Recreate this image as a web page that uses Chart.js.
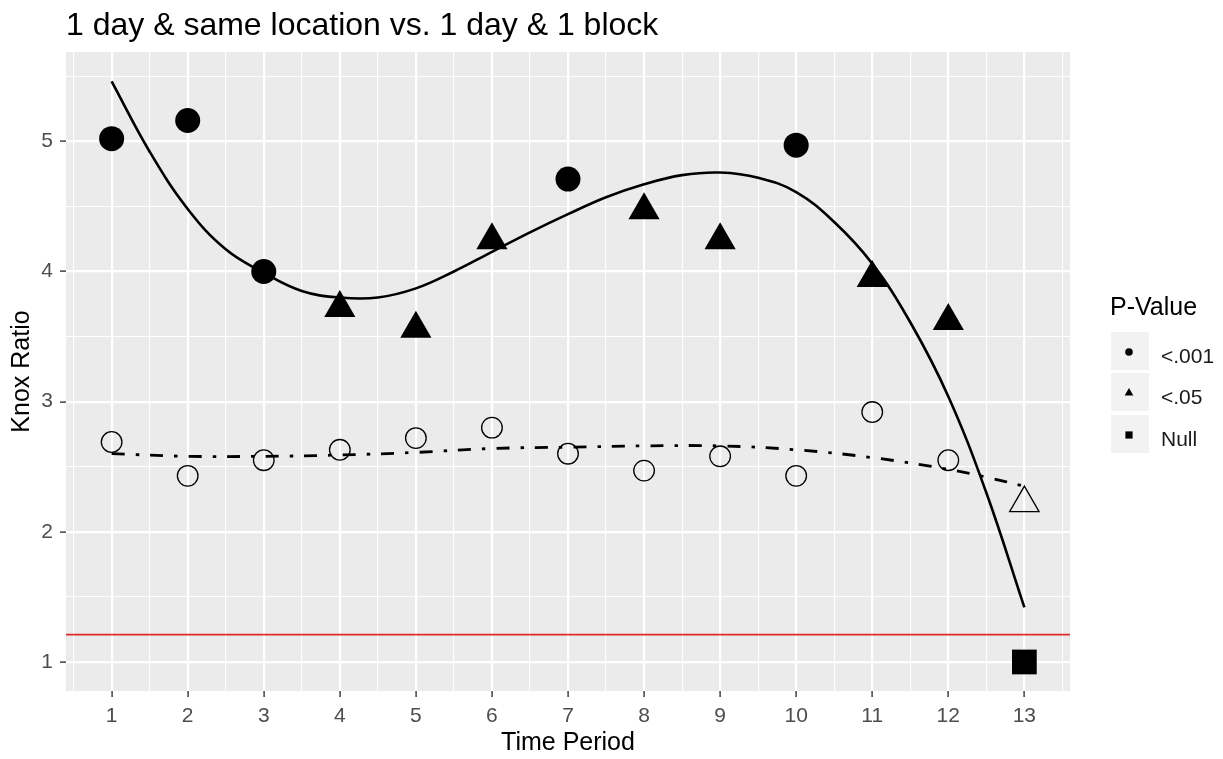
<!DOCTYPE html>
<html>
<head>
<meta charset="utf-8">
<script src="https://cdn.jsdelivr.net/npm/chart.js@4.4.0/dist/chart.umd.min.js"></script>
<style>
  html, body { margin: 0; padding: 0; background: #fff; }
  #wrap { width: 1223px; height: 759px; position: relative; }
</style>
</head>
<body>
<div id="wrap"><canvas id="knox" width="1223" height="759"></canvas></div>
<script>
// observed points
const periods      = [1, 2, 3, 4, 5, 6, 7, 8, 9, 10, 11, 12, 13];
const sameLocRatio = [5.02, 5.16, 4.00, 3.72, 3.56, 4.24, 4.71, 4.47, 4.24, 4.97, 3.95, 3.62, 1.00];
const sameLocP     = ['<.001', '<.001', '<.001', '<.05', '<.05', '<.05', '<.001', '<.05', '<.05', '<.001', '<.05', '<.05', 'Null'];
const blockRatio   = [2.69, 2.43, 2.55, 2.63, 2.72, 2.80, 2.60, 2.47, 2.58, 2.43, 2.92, 2.55, 2.22];
const blockP       = ['<.001', '<.001', '<.001', '<.001', '<.001', '<.001', '<.001', '<.001', '<.001', '<.001', '<.001', '<.001', '<.05'];

// smoothed fits
const fitX        = [1, 1.5, 2, 2.5, 3, 3.5, 4, 4.5, 5, 5.5, 6, 6.5, 7, 7.5, 8, 8.5, 9, 9.5, 10, 10.5, 11, 11.5, 12, 12.5, 13];
const sameLocFit  = [5.46, 4.92, 4.48, 4.17, 3.99, 3.85, 3.80, 3.80, 3.87, 4.00, 4.15, 4.30, 4.44, 4.57, 4.67, 4.74, 4.76, 4.72, 4.61, 4.38, 4.06, 3.61, 3.04, 2.30, 1.42];
const blockFitX   = [1, 2, 3, 4, 5, 6, 7, 8, 9, 10, 11, 12, 12.5, 13];
const blockFit    = [2.60, 2.58, 2.58, 2.59, 2.61, 2.64, 2.65, 2.66, 2.66, 2.63, 2.57, 2.48, 2.42, 2.35];

const refLine = 1.21;

const xRange = [0.4, 13.6];
const yRange = [0.777, 5.686];
const xBreaks = [0.5, 1, 1.5, 2, 2.5, 3, 3.5, 4, 4.5, 5, 5.5, 6, 6.5, 7, 7.5, 8, 8.5, 9, 9.5, 10, 10.5, 11, 11.5, 12, 12.5, 13, 13.5];
const yBreaks = [1, 1.5, 2, 2.5, 3, 3.5, 4, 4.5, 5, 5.5];

const pLevels = ['<.001', '<.05', 'Null'];
const shapeOf = { '<.001': 'circle', '<.05': 'triangle', 'Null': 'rect' };
const sizeOf  = { '<.001': 12.5, '<.05': 18, 'Null': 17.5 };
const openSizeOf = { '<.001': 10.3, '<.05': 17, 'Null': 15 };

const FONT = '"Liberation Sans", Arial, sans-serif';

const panelBg = {
  id: 'panelBg',
  beforeDraw(chart) {
    const { ctx, chartArea: a } = chart;
    ctx.save();
    ctx.fillStyle = '#EBEBEB';
    ctx.fillRect(a.left, a.top, a.right - a.left, a.bottom - a.top);
    ctx.restore();
  }
};

const ggDecor = {
  id: 'ggDecor',
  afterDraw(chart) {
    const { ctx, chartArea: a } = chart;
    ctx.save();
    // title
    ctx.fillStyle = '#000';
    ctx.font = '32px ' + FONT;
    ctx.textBaseline = 'alphabetic';
    ctx.textAlign = 'left';
    ctx.fillText('1 day & same location vs. 1 day & 1 block', a.left, 35);

    // legend
    const lx = 1110;
    ctx.font = '25px ' + FONT;
    ctx.fillText('P-Value', lx, 315);
    const rows = [332, 373, 415];
    pLevels.forEach((lvl, i) => {
      const top = rows[i];
      ctx.fillStyle = '#F2F2F2';
      ctx.fillRect(lx + 1, top, 38, 38);
      const cx = lx + 19, cy = top + 20;
      ctx.fillStyle = '#000';
      ctx.beginPath();
      if (shapeOf[lvl] === 'circle') {
        ctx.arc(cx, cy, 3.8, 0, Math.PI * 2);
      } else if (shapeOf[lvl] === 'triangle') {
        ctx.moveTo(cx, cy - 5);
        ctx.lineTo(cx + 4.3, cy + 2.5);
        ctx.lineTo(cx - 4.3, cy + 2.5);
        ctx.closePath();
      } else {
        ctx.rect(cx - 3.6, cy - 3.6, 7.2, 7.2);
      }
      ctx.fill();
      ctx.fillStyle = '#1A1A1A';
      ctx.font = '21px ' + FONT;
      ctx.fillText(lvl, lx + 51, top + 31);
    });
    ctx.restore();
  }
};

const isMajor = v => Number.isInteger(v);

new Chart(document.getElementById('knox'), {
  type: 'scatter',
  data: {
    datasets: [
      {
        label: 'same location',
        data: periods.map((p, i) => ({ x: p, y: sameLocRatio[i] })),
        pointStyle: sameLocP.map(p => shapeOf[p]),
        pointRadius: sameLocP.map(p => sizeOf[p]),
        backgroundColor: '#000',
        borderColor: '#000',
        borderWidth: 0
      },
      {
        label: '1 block',
        data: periods.map((p, i) => ({ x: p, y: blockRatio[i] })),
        pointStyle: blockP.map(p => shapeOf[p]),
        pointRadius: blockP.map(p => openSizeOf[p]),
        backgroundColor: 'rgba(0,0,0,0)',
        borderColor: '#000',
        borderWidth: 1.3
      },
      {
        label: 'same location fit',
        data: fitX.map((x, i) => ({ x, y: sameLocFit[i] })),
        showLine: true,
        pointRadius: 0,
        borderColor: '#000',
        borderWidth: 2.6,
        tension: 0.4
      },
      {
        label: '1 block fit',
        data: blockFitX.map((x, i) => ({ x, y: blockFit[i] })),
        showLine: true,
        pointRadius: 0,
        borderColor: '#000',
        borderWidth: 2.8,
        borderDash: [13, 11, 3.5, 11],
        borderCapStyle: 'butt',
        tension: 0.4
      },
      {
        label: 'reference',
        data: xRange.map(x => ({ x, y: refLine })),
        showLine: true,
        pointRadius: 0,
        borderColor: '#E02A2A',
        borderWidth: 1.6
      }
    ]
  },
  options: {
    responsive: false,
    animation: false,
    events: [],
    layout: { padding: { top: 52, right: 153, left: 0, bottom: 0 } },
    plugins: {
      legend: { display: false },
      tooltip: { enabled: false }
    },
    scales: {
      x: {
        type: 'linear',
        min: xRange[0],
        max: xRange[1],
        afterFit: s => { s.height = 68; },
        afterBuildTicks: s => { s.ticks = xBreaks.map(v => ({ value: v })); },
        border: { display: false },
        grid: {
          color: '#FFFFFF',
          lineWidth: c => (isMajor(c.tick.value) ? 2.2 : 1.1),
          tickColor: c => (isMajor(c.tick.value) ? '#333333' : 'rgba(0,0,0,0)'),
          tickWidth: 1.4,
          tickLength: 6
        },
        ticks: {
          autoSkip: false,
          maxRotation: 0,
          padding: 7,
          color: '#4D4D4D',
          font: { family: FONT, size: 21 },
          callback: v => (isMajor(v) ? String(v) : '')
        },
        title: {
          display: true,
          text: 'Time Period',
          color: '#000',
          font: { family: FONT, size: 25 },
          padding: { top: 0, bottom: 1 }
        }
      },
      y: {
        type: 'linear',
        min: yRange[0],
        max: yRange[1],
        afterFit: s => { s.width = 66; },
        afterBuildTicks: s => { s.ticks = yBreaks.map(v => ({ value: v })); },
        border: { display: false },
        grid: {
          color: '#FFFFFF',
          lineWidth: c => (isMajor(c.tick.value) ? 2.2 : 1.1),
          tickColor: c => (isMajor(c.tick.value) ? '#333333' : 'rgba(0,0,0,0)'),
          tickWidth: 1.4,
          tickLength: 6
        },
        ticks: {
          autoSkip: false,
          padding: 7,
          color: '#4D4D4D',
          font: { family: FONT, size: 21 },
          callback: v => (isMajor(v) ? String(v) : '')
        },
        title: {
          display: true,
          text: 'Knox Ratio',
          color: '#000',
          font: { family: FONT, size: 25 },
          padding: { top: 7, bottom: 0 }
        }
      }
    }
  },
  plugins: [panelBg, ggDecor]
});
</script>
</body>
</html>
